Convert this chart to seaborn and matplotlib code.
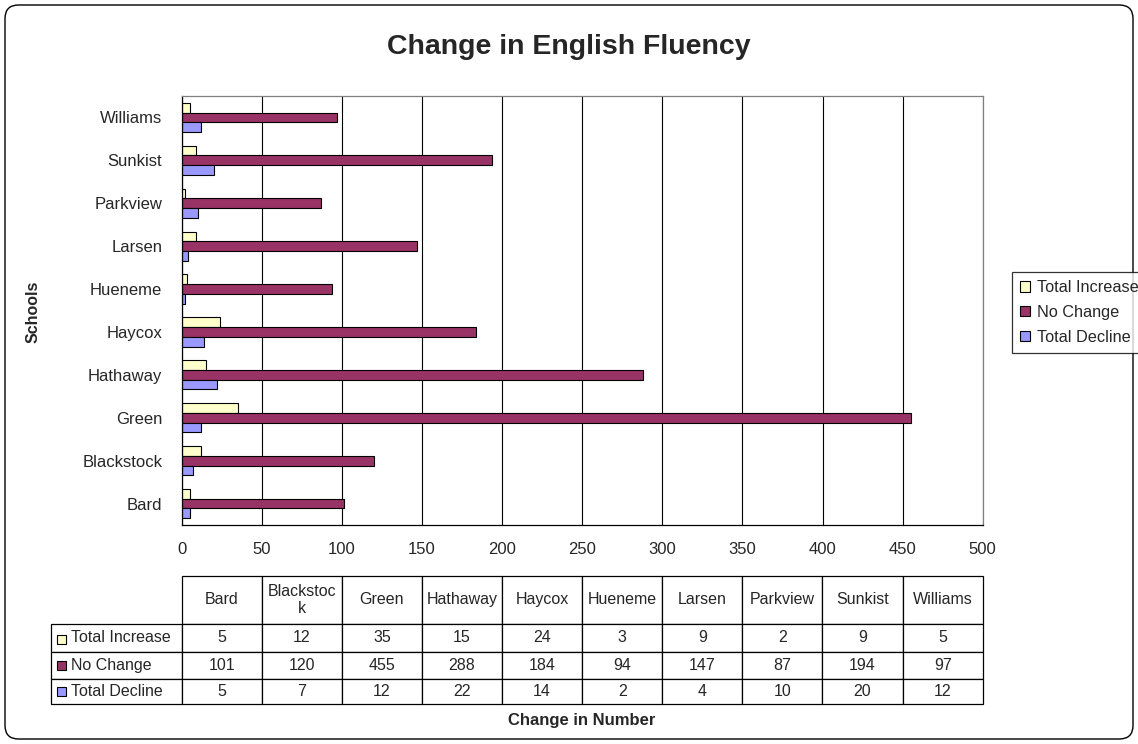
import matplotlib
matplotlib.use("Agg")
import matplotlib.pyplot as plt
from matplotlib.patches import Rectangle, FancyBboxPatch, Patch
import seaborn as sns
import pandas as pd
import numpy as np

schools = ["Bard", "Blackstock", "Green", "Hathaway", "Haycox", "Hueneme",
           "Larsen", "Parkview", "Sunkist", "Williams"]
header_labels = ["Bard", "Blackstoc\nk", "Green", "Hathaway", "Haycox", "Hueneme",
                 "Larsen", "Parkview", "Sunkist", "Williams"]
series_names = ["Total Increase", "No Change", "Total Decline"]
total_increase = [5, 12, 35, 15, 24, 3, 9, 2, 9, 5]
no_change = [101, 120, 455, 288, 184, 94, 147, 87, 194, 97]
total_decline = [5, 7, 12, 22, 14, 2, 4, 10, 20, 12]
colors = ["#FFFFCC", "#993366", "#9999FF"]
x_ticks = [0, 50, 100, 150, 200, 250, 300, 350, 400, 450, 500]

sns.set_style("white")
plt.rcParams["font.family"] = ["Liberation Sans", "DejaVu Sans"]

W, H = 1138, 744
fig = plt.figure(figsize=(W / 100, H / 100), dpi=100)

# axes position in pixels
ax_l, ax_r, ax_t, ax_b = 181.7, 982.7, 96, 525
ax = fig.add_axes([ax_l / W, 1 - ax_b / H, (ax_r - ax_l) / W, (ax_b - ax_t) / H])

rows = []
for s, vals in zip(series_names, [total_increase, no_change, total_decline]):
    for sc, v in zip(schools, vals):
        rows.append({"school": sc, "series": s, "value": v})
df = pd.DataFrame(rows)

sns.barplot(data=df, x="value", y="school", hue="series", order=schools[::-1],
            hue_order=series_names, palette=colors, orient="h", width=0.68,
            edgecolor="black", linewidth=0.8, saturation=1, ax=ax, legend=False,
            errorbar=None)

ax.set_xlim(0, 500)
ax.set_ylim(len(schools) - 0.5, -0.5)
ax.set_xticks(x_ticks)
ax.set_xticklabels([str(t) for t in x_ticks], fontsize=12)
ax.xaxis.grid(True, color="black", linewidth=0.8)
ax.yaxis.grid(False)
ax.set_axisbelow(True)
ax.set_xlabel("")
ax.set_ylabel("")
ax.tick_params(axis="x", direction="out", length=5, width=0.8, color="black", pad=7)
ax.tick_params(axis="y", which="major", length=0, pad=14, labelsize=12)
ax.set_yticks(np.arange(-0.5, len(schools), 1.0), minor=True)
ax.tick_params(axis="y", which="minor", direction="out", length=5, width=0.8, color="black")
for side in ["left", "bottom"]:
    ax.spines[side].set_color("black")
    ax.spines[side].set_linewidth(0.9)
for side in ["top", "right"]:
    ax.spines[side].set_color("#808080")
    ax.spines[side].set_linewidth(0.9)

# Title and axis labels
fig.text(569 / W, 1 - 47 / H, "Change in English Fluency", ha="center", va="center",
         fontsize=20.5, fontweight="bold")
fig.text(33 / W, 1 - 312 / H, "Schools", ha="center", va="center", rotation=90,
         fontsize=11.5, fontweight="bold")
fig.text(582 / W, 1 - 721 / H, "Change in Number", ha="center", va="center",
         fontsize=12, fontweight="bold")

# Legend
handles = [Patch(facecolor=c, edgecolor="black", linewidth=0.8) for c in colors]
leg = fig.legend(handles, series_names, loc="upper left",
                 bbox_to_anchor=(1011.7 / W, 1 - 272 / H), fontsize=11.7,
                 frameon=True, fancybox=False, edgecolor="black",
                 handlelength=0.62, handleheight=0.62, handletextpad=0.43,
                 borderpad=0.5, labelspacing=0.6, borderaxespad=0)
leg.get_frame().set_linewidth(0.9)

# Data table (cell sizes in axes units so the bbox scale is exactly 1)
cell_text = [[str(v) for v in vals] for vals in [total_increase, no_change, total_decline]]
tab_l, tab_t, tab_b = 50.5, 575.7, 704
ax_w = ax_r - ax_l
ax_h = ax_b - ax_t
row_heights = [48.3, 28, 27, 25]
bbox = [0, (ax_b - tab_b) / ax_h, 1, sum(row_heights) / ax_h]
table = ax.table(cellText=cell_text, rowLabels=series_names, colLabels=header_labels,
                 cellLoc="center", rowLoc="left", bbox=bbox)
table.auto_set_font_size(False)
table.set_fontsize(11.5)
label_w = (ax_l - tab_l) / ax_w
data_w = 1.0 / len(schools)
for (r, c), cell in table.get_celld().items():
    cell.set_linewidth(0.9)
    cell.set_edgecolor("black")
    cell.set_height(row_heights[r] / ax_h)
    if c == -1:
        cell.set_width(label_w)
        cell.PAD = 0.156
    else:
        cell.set_width(data_w)

# legend keys in the table
row_centers = [639.5, 665.5, 691.5]
for c, yc in zip(colors, row_centers):
    fig.add_artist(Rectangle((56.5 / W, 1 - (yc + 4.5) / H), 9.5 / W, 9.5 / H,
                             facecolor=c, edgecolor="black", linewidth=0.8,
                             transform=fig.transFigure))

# Rounded outer border
fig.add_artist(FancyBboxPatch((5 / W, 5 / H), (W - 10) / W, (H - 10) / H,
                              boxstyle="round,pad=0,rounding_size=0.012",
                              facecolor="none", edgecolor="black", linewidth=1,
                              transform=fig.transFigure, mutation_aspect=W / H))

fig.savefig("out.png", dpi=100)
